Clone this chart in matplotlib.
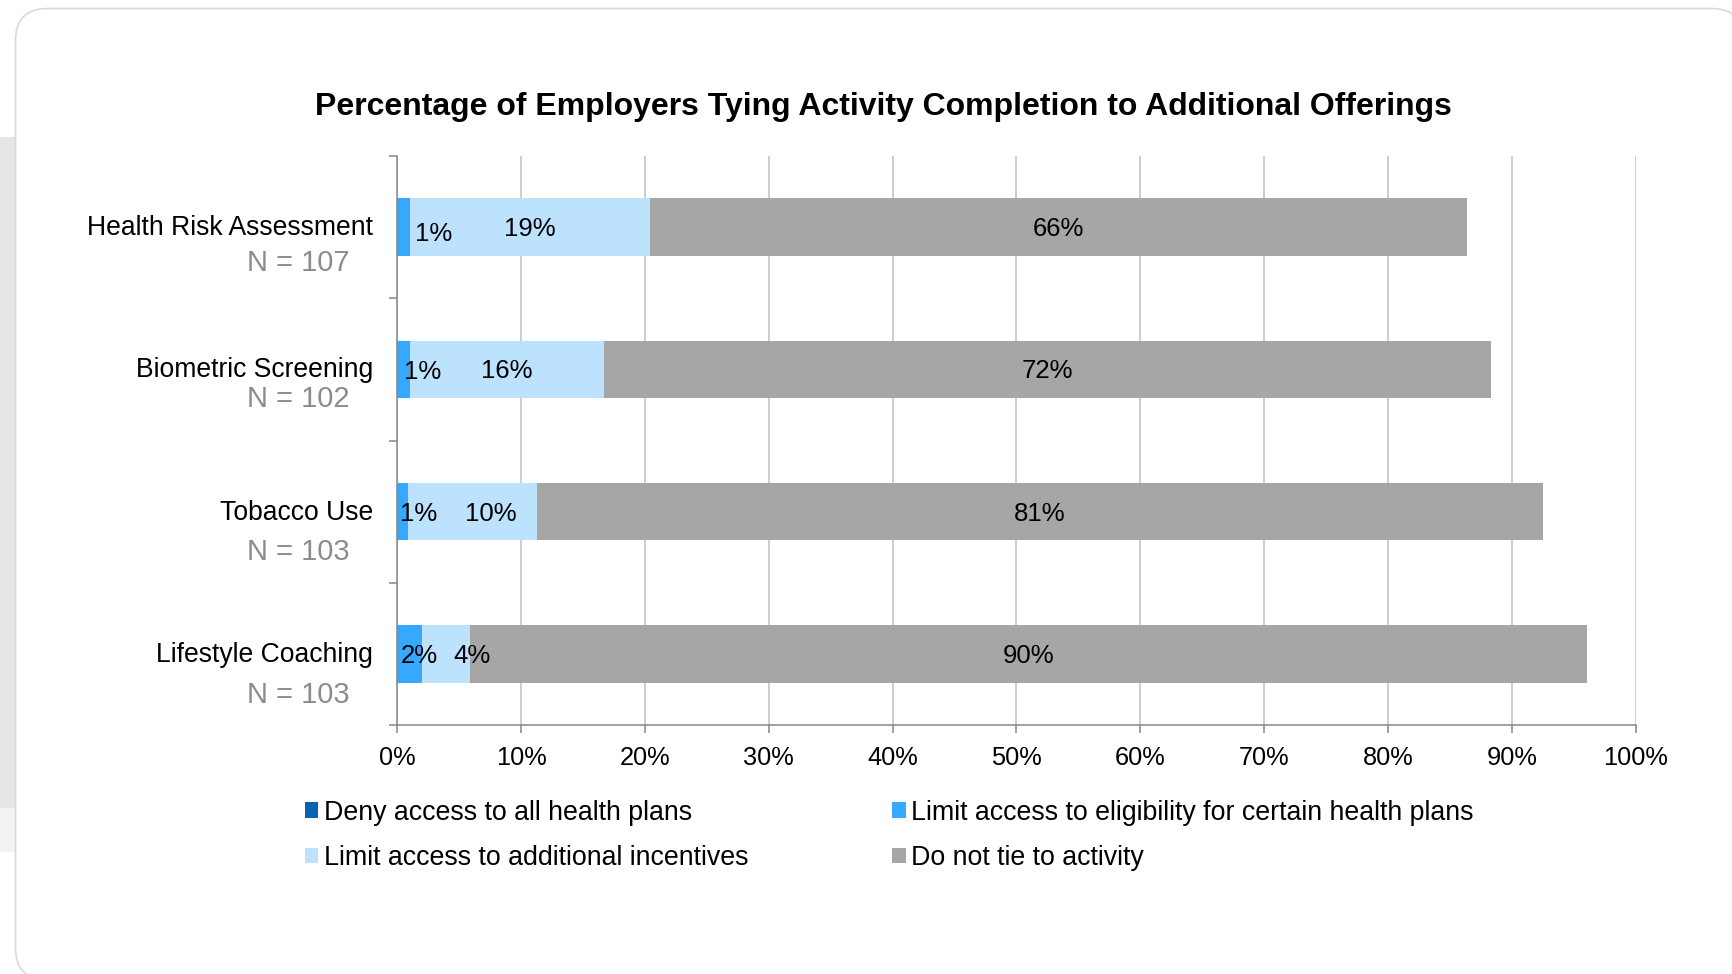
import matplotlib
matplotlib.use('Agg')
import matplotlib.pyplot as plt
import numpy as np
from matplotlib.patches import FancyBboxPatch, Rectangle, Patch
from matplotlib.transforms import IdentityTransform, ScaledTranslation

plt.rcParams['font.family'] = ['Liberation Sans', 'DejaVu Sans']

# survey results, percent of employers
activities = ["Health Risk Assessment", "Biometric Screening", "Tobacco Use", "Lifestyle Coaching"]
sample_sizes = [107, 102, 103, 103]
deny_all = [0.0, 0.0, 0.0, 0.0]
limit_eligibility = [1.0, 1.0, 0.9, 2.0]
limit_incentives = [19.4, 15.7, 10.4, 3.9]
not_tied = [66.0, 71.6, 81.2, 90.2]

series_names = ["Deny access to all health plans",
                "Limit access to eligibility for certain health plans",
                "Limit access to additional incentives",
                "Do not tie to activity"]
colors = ["#0563B1", "#36A9FF", "#BDE2FD", "#A6A6A6"]

# label nudges in pixels (dx, dy) for each series/row
label_nudge = [
    [(0, -2)] * 4,
    [(30, -7), (19, -3), (16, -2), (10, -2)],
    [(0, -2), (0, -2), (18, -2), (26, -2)],
    [(0, -2)] * 4,
]
n_label_dy = [-36, -30, -40, -41]

W, H = 1733, 974
fig = plt.figure(figsize=(W / 100, H / 100), dpi=100, facecolor="white")

# page background and card
fig.patches.append(Rectangle((0, H - 808), 15, 808 - 137, transform=IdentityTransform(),
                             facecolor="#E6E6E6", edgecolor="none", zorder=-3))
fig.patches.append(Rectangle((0, H - 852), 15, 44, transform=IdentityTransform(),
                             facecolor="#F3F3F3", edgecolor="none", zorder=-3))
card = FancyBboxPatch((15.5, -6), 1728, H - 8.5 + 6, boxstyle="round,pad=0,rounding_size=32",
                      transform=IdentityTransform(), facecolor="white", edgecolor="#D9D9D9",
                      linewidth=1.2, zorder=-2)
fig.patches.append(card)

ax = fig.add_axes([397.3 / W, 249 / H, (1635.7 - 397.3) / W, (725 - 156) / H])
ax.set_facecolor("none")
ax.set_zorder(1)

y = np.arange(len(activities))
data = [deny_all, limit_eligibility, limit_incentives, not_tied]
left = np.zeros(len(activities))
for k, (vals, col) in enumerate(zip(data, colors)):
    vals = np.array(vals)
    ax.barh(y, vals, left=left, height=0.405, color=col, zorder=2)
    for i, v in enumerate(vals):
        if v <= 0:
            continue
        dx, dy = label_nudge[k][i]
        ax.annotate(f"{v:.0f}%", xy=(left[i] + v / 2, y[i]), xytext=(dx, dy),
                    textcoords="offset pixels", ha="center", va="center",
                    fontsize=18.5, color="black", zorder=3)
    left = left + vals

ax.set_xlim(0, 100)
ax.set_ylim(len(activities) - 0.5, -0.5)
ax.set_xticks(np.arange(0, 101, 10))
ax.set_xticklabels([f"{t}%" for t in range(0, 101, 10)], fontsize=18.3)
ax.set_yticks(y)
ax.set_yticklabels(activities, fontsize=19.1)
ax.set_yticks(np.arange(-0.5, len(activities)), minor=True)
ax.tick_params(axis="y", which="major", length=0, pad=17.5)
ax.tick_params(axis="y", which="minor", length=5.5, width=1.1, color="#868686")
ax.tick_params(axis="x", length=5.8, width=1.1, color="#868686", pad=9.2)

# lift the activity names a little above the bar centres
lift = ScaledTranslation(0, 2 / 100, fig.dpi_scale_trans)
for lbl in ax.get_yticklabels():
    lbl.set_transform(lbl.get_transform() + lift)

ax.grid(axis="x", color="#C0C0C0", linewidth=1.1, zorder=0)
ax.set_axisbelow(True)
for s in ["top", "right"]:
    ax.spines[s].set_visible(False)
for s in ["left", "bottom"]:
    ax.spines[s].set_color("#868686")
    ax.spines[s].set_linewidth(1.1)

# sample sizes under each activity name
for i, n in enumerate(sample_sizes):
    ax.annotate(f"N = {n}", xy=(0, y[i]), xycoords=ax.get_yaxis_transform(),
                xytext=(-48, n_label_dy[i]), textcoords="offset pixels",
                ha="right", va="center", fontsize=21, color="#8C8C8C")

fig.text(883 / W, 1 - 107 / H,
         "Percentage of Employers Tying Activity Completion to Additional Offerings",
         ha="center", va="center", fontsize=23, fontweight="bold")

handles = [Patch(facecolor=c, edgecolor="none") for c in colors]
order = [0, 2, 1, 3]
fig.legend([handles[i] for i in order], [series_names[i] for i in order],
           ncol=2, loc="upper left", bbox_to_anchor=(305 / W, 1 - 799.5 / H),
           frameon=False, fontsize=19.3, handlelength=0.5, handleheight=0.5,
           handletextpad=0.2, columnspacing=5.38, labelspacing=0.73, borderpad=0,
           borderaxespad=0)

fig.savefig("out.png", dpi=100)
